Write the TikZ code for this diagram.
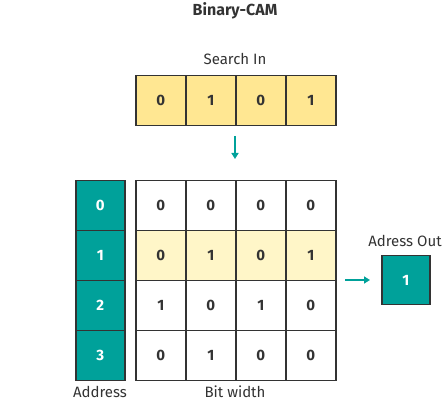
\documentclass[tikz,border=0pt]{standalone}
\usepackage{fontspec}
\setmainfont{Fira Sans}
\usetikzlibrary{arrows.meta}
\definecolor{teal1}{HTML}{00A19A}
\definecolor{yel}{HTML}{FFE792}
\definecolor{lyel}{HTML}{FFF6C8}
\definecolor{edge}{HTML}{333333}
\tikzset{
  cell/.style={draw=edge, line width=1.5pt, minimum width=50pt, minimum height=50pt, inner sep=0pt, anchor=north west, font=\fontsize{15}{17}\selectfont\bfseries, text=edge},
  srch/.style={cell, fill=yel},
  hit/.style={cell, fill=lyel},
  plain/.style={cell, fill=white},
  addr/.style={cell, fill=teal1, text=white, minimum width=49pt},
  lbl/.style={font=\fontsize{15}{17}\selectfont, text=edge, inner sep=1pt},
  arr/.style={-{Triangle[length=6pt,width=7pt]}, draw=teal1, line width=1.5pt}
}
\begin{document}
\begin{tikzpicture}[x=1pt,y=-1pt]
\useasboundingbox (0,0) rectangle (448,401);
\node[font=\fontsize{16}{18}\selectfont\bfseries, text=edge] (title) at (235,11) {Binary-CAM};
\node[lbl] (slbl) at (235,59) {Search In};
\node[srch] (s0) at (135,75) {0};
\node[srch] (s1) at (185,75) {1};
\node[srch] (s2) at (235,75) {0};
\node[srch] (s3) at (285,75) {1};
% address column
\node[addr] (a0) at (75,180) {0};
\node[addr] (a1) at (75,230) {1};
\node[addr] (a2) at (75,280) {2};
\node[addr] (a3) at (75,330) {3};
% grid
\node[plain] (c00) at (135,180) {0};
\node[plain] (c01) at (185,180) {0};
\node[plain] (c02) at (235,180) {0};
\node[plain] (c03) at (285,180) {0};
\node[hit] (c10) at (135,230) {0};
\node[hit] (c11) at (185,230) {1};
\node[hit] (c12) at (235,230) {0};
\node[hit] (c13) at (285,230) {1};
\node[plain] (c20) at (135,280) {1};
\node[plain] (c21) at (185,280) {0};
\node[plain] (c22) at (235,280) {1};
\node[plain] (c23) at (285,280) {0};
\node[plain] (c30) at (135,330) {0};
\node[plain] (c31) at (185,330) {1};
\node[plain] (c32) at (235,330) {0};
\node[plain] (c33) at (285,330) {0};
% output
\node[addr, minimum width=48pt, minimum height=49pt] (out) at (381,255) {1};
\node[lbl] (olbl) at (405,241) {Adress Out};
\node[lbl] (albl) at (100,392) {Address};
\node[lbl] (blbl) at (235,392) {Bit width};
% arrows
\coordinate (d1) at (235,136);
\coordinate (d2) at (235,159);
\draw[arr] (d1) -- (d2);
\coordinate (r1) at (345,280);
\coordinate (r2) at (370,280);
\draw[arr] (r1) -- (r2);
\end{tikzpicture}
\end{document}
